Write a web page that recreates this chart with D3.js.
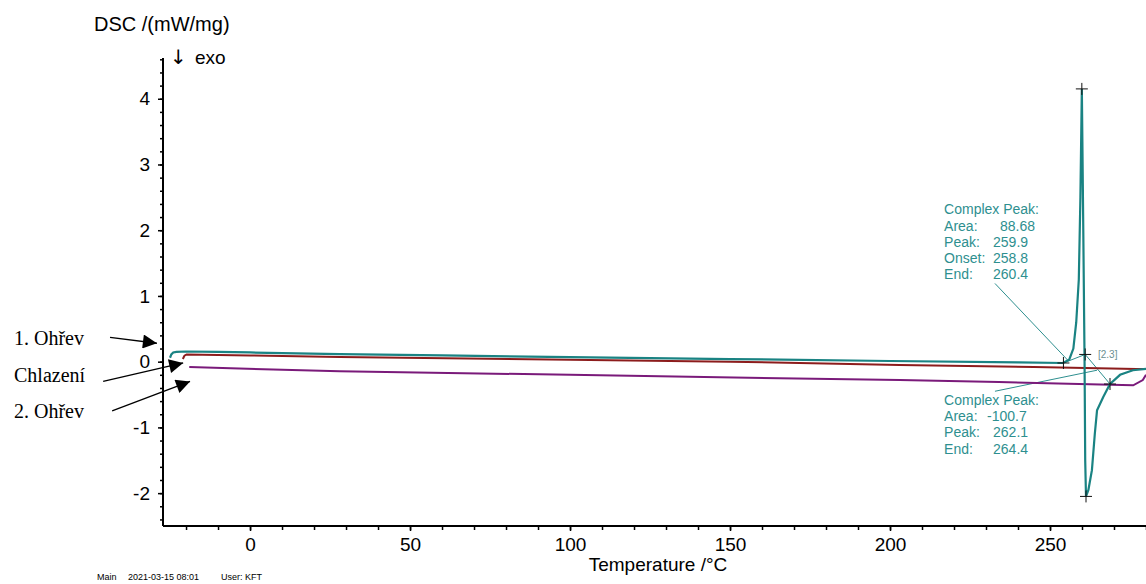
<!DOCTYPE html>
<html>
<head>
<meta charset="utf-8">
<script src="https://cdn.jsdelivr.net/npm/d3@7"></script>
<style>
  body { margin: 0; background: #fff; }
  text { font-family: "Liberation Sans", Arial, sans-serif; }
</style>
</head>
<body>
<div id="chart"></div>
<script>
// 1. Ohřev (teal)
var heat1T = [-25.0, -24.6, -24.0, -23.0, -20, -10, 0, 28, 60, 100, 150, 200, 240, 254,
  256, 257.3, 258.2, 259, 259.5, 259.95, 260.4, 260.8, 261.0, 261.25, 262, 263.1, 264,
  264.7, 266.6, 268.75, 271.9, 275.9, 280];
var heat1V = [0.06, 0.11, 0.14, 0.15, 0.155, 0.15, 0.14, 0.115, 0.095, 0.07, 0.04, 0.01, -0.01, -0.02,
  0.03, 0.2, 0.6, 1.25, 2.5, 4.15, 2.0, 0.0, -1.5, -2.05, -1.95, -1.65, -1.1,
  -0.74, -0.54, -0.34, -0.2, -0.13, -0.11];
// Chlazení (dark red)
var coolT = [-21.0, -20.5, -19.8, -10, 0, 28, 100, 150, 203, 245, 277, 280];
var coolV = [0.04, 0.09, 0.11, 0.1, 0.095, 0.07, 0.03, 0.0, -0.05, -0.08, -0.11, -0.11];
// 2. Ohřev (purple)
var heat2T = [-19.0, -6, 28, 100, 203, 234, 269, 276, 279, 280];
var heat2V = [-0.08, -0.1, -0.145, -0.2, -0.28, -0.31, -0.35, -0.36, -0.28, -0.2];

// tick values
var xMajor = [0, 50, 100, 150, 200, 250];
var xMinor = d3.range(-20, 281, 10);
var yMajor = [-2, -1, 0, 1, 2, 3, 4];
var yMinor = d3.range(-2.4, 4.61, 0.2);

// peak evaluation marks (T, value)
var crossMarks = [[259.95, 4.15], [261.25, -2.05], [254.2, -0.02], [261.0, 0.11], [268.75, -0.34]];
var baseLines = [[[254.2, -0.02], [261.0, 0.11]], [[261.0, 0.11], [268.75, -0.34]]];
var leaderLines = [[[232.8, 1.19], [255.6, 0.02]], [[232.8, -0.45], [264.7, -0.13]]];

var peak1Labels = ["Complex Peak:", "Area:", "Peak:", "Onset:", "End:"];
var peak1Values = ["", "88.68", "259.9", "258.8", "260.4"];
var peak2Labels = ["Complex Peak:", "Area:", "Peak:", "End:"];
var peak2Values = ["", "-100.7", "262.1", "264.4"];

// curve labels with arrows: [text, tail(T,v), tip(T,v)]
var curveNames = ["1. Ohřev", "Chlazení", "2. Ohřev"];
var arrowTails = [[-43.75, 0.37], [-45.9, -0.30], [-43.1, -0.75]];
var arrowTips = [[-29.1, 0.28], [-20.9, -0.02], [-18.75, -0.30]];

var W = 1146, H = 584;
var svg = d3.select("#chart").append("svg")
  .attr("width", W).attr("height", H);

var x = d3.scaleLinear().domain([-27.2, 280]).range([163, 1146]);
var y = d3.scaleLinear().domain([-2.5, 4.62]).range([526, 58]);

// minor ticks
svg.append("g")
  .attr("transform", "translate(163,0)")
  .call(d3.axisLeft(y).tickValues(yMinor).tickSize(3).tickSizeOuter(0).tickFormat(""))
  .call(function(g){ g.select(".domain").remove(); });
svg.append("g")
  .attr("transform", "translate(0,526)")
  .call(d3.axisBottom(x).tickValues(xMinor).tickSize(4).tickSizeOuter(0).tickFormat(""))
  .call(function(g){ g.select(".domain").remove(); });

// major ticks + labels
var yAx = svg.append("g")
  .attr("transform", "translate(163,0)")
  .call(d3.axisLeft(y).tickValues(yMajor).tickSize(5).tickPadding(8)
    .tickFormat(function(d){ return String(d); }));
yAx.select(".domain").remove();
yAx.selectAll("text").style("font-size", "19px").attr("font-family", null);

var xAx = svg.append("g")
  .attr("transform", "translate(0,526)")
  .call(d3.axisBottom(x).tickValues(xMajor).tickSize(5).tickPadding(7));
xAx.select(".domain").remove();
xAx.selectAll("text").style("font-size", "19px").attr("font-family", null);
svg.selectAll(".tick line").attr("stroke", "#000").attr("stroke-width", 1.5);

// axis lines
svg.append("line").attr("x1", 163).attr("x2", 163).attr("y1", y(4.62)).attr("y2", y(-2.5))
  .attr("stroke", "#000").attr("stroke-width", 2);
svg.append("line").attr("x1", x(-27.2)).attr("x2", x(280)).attr("y1", 526).attr("y2", 526)
  .attr("stroke", "#000").attr("stroke-width", 2);

// axis titles
svg.append("text").attr("x", 94).attr("y", 31).style("font-size", "20px").text("DSC /(mW/mg)");
svg.append("text").attr("x", 170).attr("y", 64)
  .style("font-family", "'DejaVu Sans', sans-serif").style("font-size", "20px").text("↓");
svg.append("text").attr("x", 195).attr("y", 64).style("font-size", "19px").text("exo");
svg.append("text").attr("x", 658).attr("y", 571).attr("text-anchor", "middle")
  .style("font-size", "19px").text("Temperature /°C");

// curves
var line = d3.line().x(function(d){ return x(d[0]); }).y(function(d){ return y(d[1]); });
function pairs(t, v){ return t.map(function(d, i){ return [d, v[i]]; }); }

var peakColor = "#2e8f8f";
baseLines.concat(leaderLines).forEach(function(l){
  svg.append("path").datum(l).attr("d", line)
    .attr("fill", "none").attr("stroke", peakColor).attr("stroke-width", 1);
});

svg.append("path").datum(pairs(heat2T, heat2V)).attr("d", line)
  .attr("fill", "none").attr("stroke", "#7a1a7a").attr("stroke-width", 2);
svg.append("path").datum(pairs(coolT, coolV)).attr("d", line)
  .attr("fill", "none").attr("stroke", "#8c1c1c").attr("stroke-width", 2);
svg.append("path").datum(pairs(heat1T, heat1V)).attr("d", line)
  .attr("fill", "none").attr("stroke", "#1a8383").attr("stroke-width", 2.2);

// cross marks
crossMarks.forEach(function(m){
  var cx = x(m[0]), cy = y(m[1]);
  svg.append("path").attr("d", "M" + (cx - 6) + "," + cy + "H" + (cx + 6) + "M" + cx + "," + (cy - 6) + "V" + (cy + 6))
    .attr("stroke", "#111").attr("stroke-width", 1);
});

// peak annotation text
function peakText(labels, values, t0, v0, tVal){
  labels.forEach(function(l, i){
    svg.append("text").attr("x", x(t0)).attr("y", y(v0) + i * 16.2)
      .style("font-size", "14px").attr("fill", peakColor).text(l);
    if (values[i]) {
      // Area values sit a little off the value column, as in the instrument printout
      var dx = l === "Area:" ? (values[i].charAt(0) === "-" ? -6 : 7) : 0;
      svg.append("text").attr("x", x(tVal) + dx).attr("y", y(v0) + i * 16.2)
        .style("font-size", "14px").attr("fill", peakColor).text(values[i]);
    }
  });
}
peakText(peak1Labels, peak1Values, 216.9, 2.24, 232.2);
peakText(peak2Labels, peak2Values, 216.9, -0.66, 232.2);

svg.append("text").attr("x", x(265.0)).attr("y", y(0.06))
  .style("font-size", "10px").attr("fill", "#6a8f8f").text("[2.3]");

// curve names with arrows
svg.append("defs").append("marker")
  .attr("id", "ah").attr("viewBox", "0 0 10 10").attr("refX", 10).attr("refY", 5)
  .attr("markerWidth", 19).attr("markerHeight", 14).attr("markerUnits", "userSpaceOnUse")
  .attr("orient", "auto")
  .append("path").attr("d", "M0,0L10,5L0,10Z").attr("fill", "#000");

var nameBase = [345, 382, 418];
curveNames.forEach(function(n, i){
  svg.append("text").attr("x", 14).attr("y", nameBase[i])
    .style("font-family", "'Liberation Serif', 'Times New Roman', serif")
    .style("font-size", "20px").text(n);
  svg.append("line")
    .attr("x1", x(arrowTails[i][0])).attr("y1", y(arrowTails[i][1]))
    .attr("x2", x(arrowTips[i][0])).attr("y2", y(arrowTips[i][1]))
    .attr("stroke", "#000").attr("stroke-width", 1.3).attr("marker-end", "url(#ah)");
});

// footer
var foot = svg.append("text").attr("y", 580).style("font-size", "9px");
foot.append("tspan").attr("x", 97).text("Main");
foot.append("tspan").attr("x", 128).text("2021-03-15 08:01");
foot.append("tspan").attr("x", 221).text("User: KFT");
</script>
</body>
</html>
